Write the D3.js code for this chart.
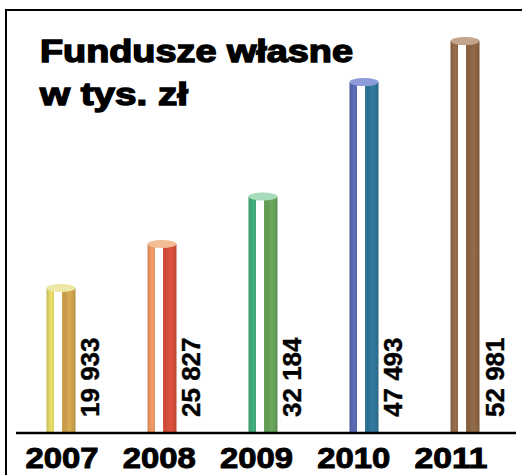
<!DOCTYPE html>
<html lang="pl">
<head>
<meta charset="UTF-8">
<title>Fundusze własne</title>
<script src="https://d3js.org/d3.v7.min.js"></script>
<style>
  body { margin: 0; background: #fff; }
</style>
</head>
<body>
<script>
// data
const years = ["2007", "2008", "2009", "2010", "2011"];
const values = [19933, 25827, 32184, 47493, 52981];
const valueLabels = ["19 933", "25 827", "32 184", "47 493", "52 981"];
const titleLines = ["Fundusze własne", "w tys. zł"];

// colours of each cylinder: left side, right side, top cap
const leftColors = ["#d9cd62", "#e0905e", "#3fa271", "#5463a9", "#8c6646"];
const rightColors = ["#c39a4a", "#c94a38", "#5f9852", "#2c6e90", "#85603f"];
const capColors = ["#ede8a8", "#f2bc94", "#a6dcb9", "#8d9bd8", "#c4a58c"];

const W = 522, H = 475;
const baseY = 433;

const svg = d3.select("body").append("svg")
    .attr("width", W)
    .attr("height", H);

const x = d3.scaleBand()
    .domain(years)
    .range([46.5, 479.5])
    .paddingInner(0.713)
    .paddingOuter(0);

const yearPos = d3.scalePoint()
    .domain(years)
    .range([62, 451]);

const y = d3.scaleLinear()
    .domain([0, 55000])
    .range([baseY, 22]);

// gradients for the cylinders
const defs = svg.append("defs");
years.forEach(function(yr, i) {
  const g = defs.append("linearGradient")
      .attr("id", "cyl" + i)
      .attr("x1", 0).attr("x2", 1).attr("y1", 0).attr("y2", 0);
  const l = d3.color(leftColors[i]), r = d3.color(rightColors[i]);
  [
    [0, l.darker(0.3)],
    [0.06, l],
    [0.17, l.brighter(0.25)],
    [0.26, l],
    [0.26, "#ffffff"],
    [0.52, "#ffffff"],
    [0.52, r.brighter(0.2)],
    [0.62, r],
    [0.8, r.brighter(0.3)],
    [0.95, r],
    [1, r.darker(0.3)]
  ].forEach(function(s) {
    g.append("stop").attr("offset", s[0]).attr("stop-color", s[1]);
  });
});

// frame
svg.append("path")
    .attr("d", "M6," + H + "V10H" + W)
    .attr("fill", "none")
    .attr("stroke", "#000")
    .attr("stroke-width", 2);

// title
svg.selectAll("text.title")
  .data(titleLines)
  .enter().append("text")
    .attr("class", "title")
    .attr("x", 40)
    .attr("y", (d, i) => 62 + i * 43)
    .attr("textLength", (d, i) => i == 0 ? 313 : 148)
    .attr("lengthAdjust", "spacingAndGlyphs")
    .style("font-family", "'Liberation Sans', Arial, sans-serif")
    .style("font-weight", "bold")
    .style("font-size", "31px")
    .style("stroke", "#000")
    .style("stroke-width", 1.4)
    .text(d => d);

const rows = years.map((yr, i) => ({ year: yr, value: values[i], label: valueLabels[i], i: i }));
const ry = 4;

const bars = svg.append("g").selectAll("g")
  .data(rows)
  .enter().append("g");

bars.append("rect")
    .attr("x", d => x(d.year))
    .attr("y", d => y(d.value) + ry)
    .attr("width", x.bandwidth())
    .attr("height", d => baseY - y(d.value) - ry)
    .attr("fill", d => "url(#cyl" + d.i + ")");

bars.append("ellipse")
    .attr("cx", d => x(d.year) + x.bandwidth() / 2)
    .attr("cy", d => y(d.value) + ry)
    .attr("rx", x.bandwidth() / 2)
    .attr("ry", ry)
    .attr("fill", d => capColors[d.i]);

// value labels, rotated
bars.append("text")
    .attr("transform", d => "translate(" + (x(d.year) + x.bandwidth() + 24) + "," + 417 + ") rotate(-90)")
    .attr("text-anchor", "start")
    .style("font-family", "'Liberation Sans', Arial, sans-serif")
    .style("font-weight", "bold")
    .style("font-size", "26px")
    .style("stroke", "#000")
    .style("stroke-width", 0.4)
    .text(d => d.label);

// axis line
svg.append("line")
    .attr("x1", 16).attr("x2", 516)
    .attr("y1", baseY).attr("y2", baseY)
    .attr("stroke", "#000")
    .attr("stroke-width", 2.5);

// year labels
svg.selectAll("text.year")
  .data(years)
  .enter().append("text")
    .attr("class", "year")
    .attr("x", d => yearPos(d))
    .attr("y", 468)
    .attr("text-anchor", "middle")
    .attr("textLength", 73)
    .attr("lengthAdjust", "spacingAndGlyphs")
    .style("font-family", "'Liberation Sans', Arial, sans-serif")
    .style("font-weight", "bold")
    .style("font-size", "30px")
    .style("stroke", "#000")
    .style("stroke-width", 1)
    .text(d => d);
</script>
</body>
</html>
